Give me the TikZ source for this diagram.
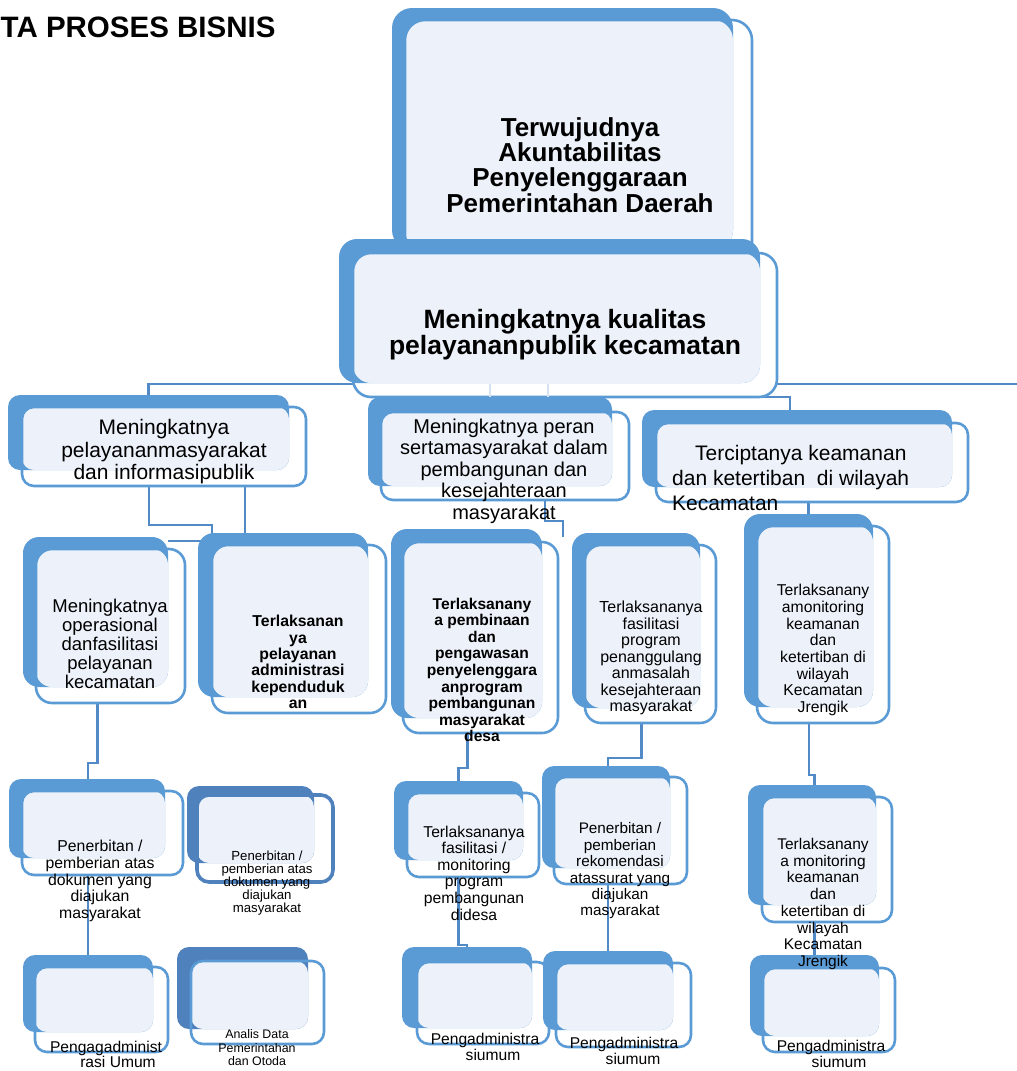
\documentclass[tikz,border=0pt]{standalone}
\usepackage{fontspec}
\setmainfont{Liberation Sans}
\usetikzlibrary{fit,backgrounds}
\definecolor{cardblue}{RGB}{91,155,213}
\definecolor{cardlight}{RGB}{237,242,250}
\definecolor{darkblue}{RGB}{79,129,189}
\definecolor{linkblue}{RGB}{82,138,200}
\definecolor{faintblue}{RGB}{214,228,242}
\tikzset{>=latex,
  backbox/.style={fill=cardblue,inner sep=0pt,outer sep=0pt},
  frontbg/.style={fill=white,inner sep=0pt,outer sep=0pt},
  frontline/.style={draw=cardblue,line width=2.6pt,inner sep=0pt,outer sep=0pt},
  link/.style={draw=linkblue,line width=2.6pt},
  faint/.style={draw=faintblue,line width=2.6pt},
  txt/.style={align=center,inner sep=0pt,text=black},
}
% name, back corners, front corners
\newcommand{\card}[6][]{%
  \begin{scope}[rounded corners=12pt,#1]
    \node[frontbg,fit={#5 #6}] (#2) {};
    \node[backbox,fit={#3 #4}] (#2-b) {};
    \fill[cardlight] (#2.north west) rectangle (#2-b.south east);
    \node[frontline,fit={#5 #6}] (#2-f) {};
  \end{scope}}

\begin{document}
\begin{tikzpicture}[x=1pt,y=-1pt]
\useasboundingbox (0,0) rectangle (1017,1071);
\node[anchor=west,inner sep=0pt,font=\bfseries\fontsize{29.5}{31}\selectfont] (title) at (0.5,27) {TA PROSES BISNIS};

\card[rounded corners=20pt]{c1}{(392,8)}{(733,250)}{(405,20)}{(752,262)}
\card[rounded corners=18pt]{c2}{(339,239)}{(760,383)}{(353,253)}{(777,397)}

\card{l2a}{(8,395)}{(289,470)}{(22,407)}{(306,486)}
\card{l2b}{(368,397)}{(612,486)}{(381,412)}{(629,500)}
\card{l2c}{(642,410)}{(952,487)}{(656,423)}{(968,502)}

\card[rounded corners=16pt]{l3a}{(23,537)}{(168,687)}{(36,549)}{(185,703)}
\card[rounded corners=16pt]{l3b}{(198,533)}{(368,697)}{(212,545)}{(386,713)}
\card[rounded corners=16pt]{l3c}{(391,529)}{(542,718)}{(403,542)}{(558,733)}
\card[rounded corners=16pt]{l3d}{(572,533)}{(700,708)}{(585,545)}{(716,723)}
\card[rounded corners=16pt]{l3e}{(744,514)}{(873,707)}{(757,526)}{(889,723)}

\card{l4a}{(9,779)}{(165,858)}{(22,791)}{(183,875)}
\card[backbox/.append style={fill=darkblue},frontline/.append style={draw=darkblue,line width=3.6pt}]{l4b}{(187,786)}{(314,863)}{(197,795)}{(333,882)}
\card{l4c}{(394,781)}{(523,860)}{(407,793)}{(539,877)}
\card{l4d}{(542,766)}{(670,868)}{(554,777)}{(687,884)}
\card{l4e}{(748,785)}{(876,905)}{(762,797)}{(892,922)}

\card{l5a}{(23,955)}{(153,1032)}{(35,967)}{(168,1052)}
\card[backbox/.append style={fill=darkblue}]{l5b}{(177,947)}{(308,1029)}{(191,961)}{(324,1044)}
\card{l5c}{(402,947)}{(532,1028)}{(417,962)}{(549,1044)}
\card{l5d}{(543,951)}{(673,1030)}{(556,963)}{(691,1047)}
\card{l5e}{(750,955)}{(879,1036)}{(763,968)}{(895,1052)}

\begin{scope}[on background layer]
\coordinate (busend) at (1017,384);
\draw[link] (l2a-b.north) |- (busend);
\draw[link] ([xshift=-7pt]l2c-b.north) -- ++(0,-13) -- ++(-180,0);
\draw[link] ([xshift=-15pt]l2a.south) -- ++(0,39) -- ++(63,0) -- ++(0,16) -- ++(-44,0);
\draw[link] ([xshift=81pt]l2a.south) -- ++(0,47);
\draw[link] ([xshift=40pt]l2b.south) -- ++(0,21) -- ++(18,0) -- ++(0,16);
\draw[link] (l3e-b.north |- l2c.south) -- (l3e-b.north);
\draw[link] ([xshift=-13pt]l3a.south) -- ++(0,60) -| (l5a-b.north);
\draw[link] ([xshift=-13pt]l3c.south) -- ++(0,35) -- ++(-9,0) |- ([yshift=2pt]l5c-b.north) -- (l5c-b.north);
\draw[link] ([xshift=-9pt]l3d.south) -- ++(0,35) -| (l5d-b.north);
\draw[link] ([xshift=-14pt]l3e.south) -- ++(0,52) -| (l5e-b.north);
\end{scope}
\draw[faint] (l2b-b.north) -- ++(0,-13);
\draw[faint] ([xshift=58pt]l2b-b.north) -- ++(0,-13);

\node[txt,font=\bfseries\fontsize{26}{25.3}\selectfont] (c1-t) at (580,165) {Terwujudnya\\Akuntabilitas\\Penyelenggaraan\\Pemerintahan Daerah};
\node[txt,font=\bfseries\fontsize{26.5}{26}\selectfont] (c2-t) at (565,335) {Meningkatnya kualitas\\pelayananpublik kecamatan};

\node[txt,font=\fontsize{21}{22.5}\selectfont] (l2a-t) at (164,452) {Meningkatnya\\pelayananmasyarakat\\dan informasipublik};
\node[txt,font=\fontsize{20}{21.5}\selectfont] (l2b-t) at (504,471) {Meningkatnya peran\\sertamasyarakat dalam\\pembangunan dan\\kesejahteraan\\masyarakat};
\node[txt,align=left,anchor=west,font=\fontsize{21}{25}\selectfont] (l2c-t) at (672,478) {\hspace*{23pt}Terciptanya keamanan\\dan ketertiban~ di wilayah\\Kecamatan};

\node[txt,font=\fontsize{18.5}{19}\selectfont] (l3a-t) at (110,644) {Meningkatnya\\operasional\\danfasilitasi\\pelayanan\\kecamatan};
\node[txt,font=\bfseries\fontsize{15.8}{16.4}\selectfont] (l3b-t) at (298,662) {Terlaksanan\\ya\\pelayanan\\administrasi\\kependuduk\\an};
\node[txt,font=\bfseries\fontsize{15.6}{16.6}\selectfont] (l3c-t) at (482,670) {Terlaksanany\\a pembinaan\\dan\\pengawasan\\penyelenggara\\anprogram\\pembangunan\\masyarakat\\desa};
\node[txt,font=\fontsize{16}{16.5}\selectfont] (l3d-t) at (651,658) {Terlaksananya\\fasilitasi\\program\\penanggulang\\anmasalah\\kesejahteraan\\masyarakat};
\node[txt,font=\fontsize{15.7}{16.7}\selectfont] (l3e-t) at (823,650) {Terlaksanany\\amonitoring\\keamanan\\dan\\ketertiban di\\wilayah\\Kecamatan\\Jrengik};

\node[txt,font=\fontsize{15.8}{16.6}\selectfont] (l4a-t) at (100,881) {Penerbitan /\\pemberian atas\\dokumen yang\\diajukan\\masyarakat};
\node[txt,font=\fontsize{13.2}{13.2}\selectfont] (l4b-t) at (267,883) {Penerbitan /\\pemberian atas\\dokumen yang\\diajukan\\masyarakat};
\node[txt,font=\fontsize{15.7}{16.6}\selectfont] (l4c-t) at (474,873) {Terlaksananya\\fasilitasi /\\monitoring\\program\\pembangunan\\didesa};
\node[txt,font=\fontsize{15.3}{16.4}\selectfont] (l4d-t) at (620,871) {Penerbitan /\\pemberian\\rekomendasi\\atassurat yang\\diajukan\\masyarakat};
\node[txt,font=\fontsize{15.5}{16.7}\selectfont] (l4e-t) at (823,904) {Terlaksanany\\a monitoring\\keamanan\\dan\\ketertiban di\\wilayah\\Kecamatan\\Jrengik};

\node[txt,font=\fontsize{15.6}{15}\selectfont] (l5a-t) at (106,1054) {Pengagadminist\\\hspace*{24pt}rasi Umum};
\node[txt,font=\fontsize{12.4}{13.5}\selectfont] (l5b-t) at (257,1048) {Analis Data\\Pemerintahan\\dan Otoda};
\node[txt,font=\fontsize{15.6}{16.5}\selectfont] (l5c-t) at (485,1047) {Pengadministra\\\hspace*{16pt}siumum};
\node[txt,font=\fontsize{15.6}{16.5}\selectfont] (l5d-t) at (624,1051) {Pengadministra\\\hspace*{18pt}siumum};
\node[txt,font=\fontsize{15.6}{16.5}\selectfont] (l5e-t) at (831,1054) {Pengadministra\\\hspace*{16pt}siumum};
\end{tikzpicture}
\end{document}
